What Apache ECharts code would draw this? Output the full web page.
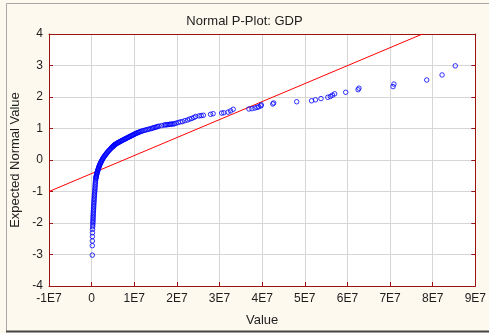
<!DOCTYPE html>
<html>
<head>
<meta charset="utf-8">
<script src="https://cdn.jsdelivr.net/npm/echarts@6/dist/echarts.min.js"></script>
<style>
  html, body { margin: 0; padding: 0; background: #fdf9ee; }
  #chart { width: 489px; height: 333px; }
</style>
</head>
<body>
<div id="chart"></div>
<script>
// GDP values, sorted, in units of 1E7
const gdpE7 = [
  0.016, 0.016, 0.017, 0.018, 0.019, 0.021, 0.024, 0.027, 0.029, 0.031,
  0.032, 0.034, 0.035, 0.037, 0.039, 0.041, 0.043, 0.045, 0.047, 0.049,
  0.051, 0.053, 0.056, 0.058, 0.061, 0.064, 0.066, 0.069, 0.072, 0.075,
  0.078, 0.081, 0.083, 0.086, 0.089, 0.092,
  0.097, 0.100, 0.104, 0.107, 0.111, 0.115, 0.119, 0.123, 0.128, 0.134,
  0.140, 0.146, 0.152, 0.158, 0.164, 0.170, 0.176, 0.183, 0.190, 0.199,
  0.208, 0.217, 0.226, 0.235, 0.245, 0.254, 0.264, 0.276, 0.289, 0.302,
  0.316, 0.330, 0.344, 0.358, 0.373, 0.389, 0.405, 0.422, 0.440, 0.458,
  0.476, 0.485, 0.494, 0.503, 0.513, 0.524, 0.535, 0.547, 0.560, 0.574,
  0.589, 0.604, 0.620, 0.636, 0.653, 0.670, 0.688, 0.705, 0.723, 0.740,
  0.758, 0.776, 0.794, 0.812, 0.830, 0.848, 0.866, 0.884, 0.903, 0.921,
  0.940, 0.958, 0.977, 0.994, 1.012, 1.031, 1.050, 1.072, 1.095, 1.117,
  1.140, 1.167, 1.195, 1.227, 1.260, 1.295, 1.330, 1.365, 1.400, 1.430,
  1.460, 1.490, 1.520, 1.550, 1.580, 1.640,
  1.70, 1.73, 1.76, 1.79, 1.82, 1.85, 1.88, 1.91, 1.94, 1.98,
  2.03, 2.08, 2.13, 2.19, 2.25, 2.30, 2.35, 2.40, 2.44, 2.52,
  2.57, 2.62, 2.79, 2.85, 3.05, 3.10, 3.20, 3.26, 3.32,
  3.69, 3.76, 3.83, 3.88, 3.92, 3.97, 3.98, 4.25, 4.27, 4.81,
  5.16, 5.25, 5.38, 5.54, 5.60, 5.65, 5.70, 5.96, 6.25, 6.27,
  7.07, 7.09, 7.86, 8.22, 8.53
];

// Expected normal value for each ranked observation
const expectedNormal = [
  -3.02, -2.72, -2.57, -2.43, -2.31, -2.20, -2.12, -2.06, -2.00, -1.95,
  -1.90, -1.85, -1.80, -1.75, -1.70, -1.65, -1.60, -1.55, -1.50, -1.45,
  -1.40, -1.35, -1.30, -1.25, -1.20, -1.15, -1.10, -1.05, -1.00, -0.95,
  -0.90, -0.85, -0.80, -0.75, -0.70, -0.65,
  -0.600, -0.575, -0.550, -0.525, -0.500, -0.475, -0.450, -0.425, -0.400, -0.375,
  -0.350, -0.325, -0.300, -0.275, -0.250, -0.225, -0.200, -0.175, -0.150, -0.125,
  -0.100, -0.075, -0.050, -0.025, 0.000, 0.025, 0.050, 0.075, 0.100, 0.125,
  0.150, 0.175, 0.200, 0.225, 0.250, 0.275, 0.300, 0.325, 0.350, 0.375,
  0.4000, 0.4125, 0.4250, 0.4375, 0.4500, 0.4625, 0.4750, 0.4875, 0.5000, 0.5125,
  0.5250, 0.5375, 0.5500, 0.5625, 0.5750, 0.5875, 0.6000, 0.6125, 0.6250, 0.6375,
  0.6500, 0.6625, 0.6750, 0.6875, 0.7000, 0.7125, 0.7250, 0.7375, 0.7500, 0.7625,
  0.7750, 0.7875, 0.8000, 0.8125, 0.8250, 0.8375, 0.8500, 0.8625, 0.8750, 0.8875,
  0.9000, 0.9125, 0.9250, 0.9375, 0.9500, 0.9625, 0.9750, 0.9875, 1.0000, 1.0125,
  1.0250, 1.0375, 1.0500, 1.0625, 1.0750, 1.0900,
  1.110, 1.115, 1.120, 1.125, 1.130, 1.135, 1.140, 1.145, 1.150, 1.170,
  1.19, 1.21, 1.22, 1.25, 1.27, 1.30, 1.32, 1.35, 1.38, 1.40,
  1.41, 1.42, 1.45, 1.47, 1.49, 1.50, 1.52, 1.56, 1.61,
  1.62, 1.63, 1.65, 1.67, 1.69, 1.72, 1.75, 1.78, 1.81, 1.85,
  1.88, 1.91, 1.95, 1.99, 2.02, 2.06, 2.10, 2.15, 2.23, 2.28,
  2.33, 2.41, 2.54, 2.70, 2.99
];

// Fitted normal reference line (endpoints: value in 1E7, expected normal)
const refLineX = [-1, 7.76];
const refLineY = [-1, 4];

// Axis ranges
const xRange = [-1, 9];
const yRange = [-4, 4];

const axisRed = '#9a1414';
const textColor = '#1e1e1e';
const font = 'Liberation Sans, Arial, sans-serif';

const points = gdpE7.map((v, i) => [v, expectedNormal[i]]);
const line = refLineX.map((v, i) => [v, refLineY[i]]);

const chart = echarts.init(document.getElementById('chart'), null, { renderer: 'canvas' });

chart.setOption({
  animation: false,
  backgroundColor: '#fdf9ee',
  textStyle: { fontFamily: font },
  title: {
    text: 'Normal P-Plot: GDP',
    left: 'center',
    top: 10,
    textStyle: { fontFamily: font, fontSize: 13, fontWeight: 'normal', color: textColor }
  },
  grid: { left: 49, right: 11, top: 34, bottom: 47, backgroundColor: '#ffffff', show: true, borderWidth: 0 },
  xAxis: [{
    type: 'value',
    min: xRange[0], max: xRange[1], interval: 1,
    name: 'Value',
    nameLocation: 'middle',
    nameGap: 28,
    nameTextStyle: { fontFamily: font, fontSize: 13, color: textColor },
    axisLine: { show: true, onZero: false, lineStyle: { color: axisRed, width: 1 } },
    axisTick: { show: true, inside: true, length: 4, lineStyle: { color: axisRed } },
    axisLabel: {
      fontFamily: font, fontSize: 12, color: textColor, margin: 7,
      formatter: v => v === 0 ? '0' : v + 'E7'
    },
    splitLine: { show: true, lineStyle: { color: '#d6d6d6', width: 1 } }
  }, {
    type: 'value', position: 'top',
    min: xRange[0], max: xRange[1], interval: 1,
    axisLine: { show: true, onZero: false, lineStyle: { color: axisRed, width: 1 } },
    axisTick: { show: false }, axisLabel: { show: false }, splitLine: { show: false }
  }],
  yAxis: [{
    type: 'value',
    min: yRange[0], max: yRange[1], interval: 1,
    name: 'Expected Normal Value',
    nameLocation: 'middle',
    nameGap: 26,
    nameTextStyle: { fontFamily: font, fontSize: 13, color: textColor },
    axisLine: { show: true, onZero: false, lineStyle: { color: axisRed, width: 1 } },
    axisTick: { show: true, inside: true, length: 4, lineStyle: { color: axisRed } },
    axisLabel: { fontFamily: font, fontSize: 12, color: textColor, margin: 6 },
    splitLine: { show: true, lineStyle: { color: '#d6d6d6', width: 1 } }
  }, {
    type: 'value', position: 'right',
    min: yRange[0], max: yRange[1], interval: 1,
    axisLine: { show: true, onZero: false, lineStyle: { color: axisRed, width: 1 } },
    axisTick: { show: true, inside: true, length: 4, lineStyle: { color: axisRed } },
    axisLabel: { show: false }, splitLine: { show: false }
  }],
  series: [{
    type: 'line',
    data: line,
    symbol: 'none',
    silent: true,
    lineStyle: { color: '#ff0000', width: 1 },
    z: 2
  }, {
    type: 'scatter',
    data: points,
    symbol: 'circle',
    symbolSize: 4.5,
    silent: true,
    itemStyle: { color: 'rgba(0,0,0,0)', borderColor: '#0000ff', borderWidth: 1 },
    z: 3
  }],
  graphic: [
    { type: 'line', shape: { x1: 6.5, y1: 3.5, x2: 6.5, y2: 331 }, style: { stroke: '#a8a8a8', lineWidth: 1 }, silent: true },
    { type: 'line', shape: { x1: 6.5, y1: 3.5, x2: 489, y2: 3.5 }, style: { stroke: '#a8a8a8', lineWidth: 1 }, silent: true },
    { type: 'line', shape: { x1: 6, y1: 331.5, x2: 489, y2: 331.5 }, style: { stroke: '#444444', lineWidth: 2 }, silent: true }
  ]
});
</script>
</body>
</html>
